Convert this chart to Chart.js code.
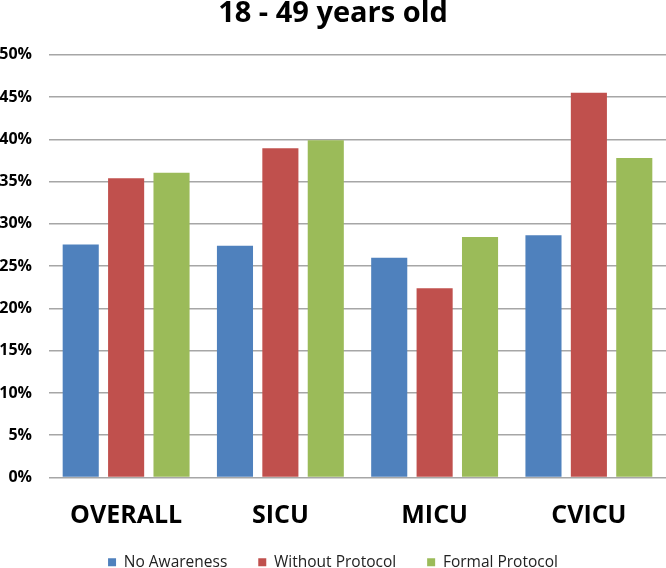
<!DOCTYPE html>
<html>
<head>
<meta charset="utf-8">
<script src="https://cdn.jsdelivr.net/npm/chart.js@4.4.0/dist/chart.umd.min.js"></script>
<style>
html,body{margin:0;padding:0;background:#fff;}
#wrap{width:666px;height:568px;position:relative;}
</style>
</head>
<body>
<div id="wrap"><canvas id="c" width="666" height="568"></canvas></div>
<script>
const categories = ["OVERALL", "SICU", "MICU", "CVICU"];
const noAwareness = [27.55, 27.4, 26.0, 28.65];
const withoutProtocol = [35.4, 38.95, 22.4, 45.5];
const formalProtocol = [36.05, 39.9, 28.45, 37.8];
const seriesNames = ["No Awareness", "Without Protocol", "Formal Protocol"];
const titleText = "18 - 49 years old";

const colors = ["#4F81BD", "#C0504D", "#9BBB59"];
const seriesData = [noAwareness, withoutProtocol, formalProtocol];

new Chart(document.getElementById('c'), {
  type: 'bar',
  data: {
    labels: categories,
    datasets: seriesNames.map((n, i) => ({
      label: n,
      data: seriesData[i],
      backgroundColor: colors[i],
      borderWidth: 0,
      categoryPercentage: 0.883,
      barPercentage: 0.795
    }))
  },
  options: {
    responsive: false,
    animation: false,
    layout: { padding: { top: 0, right: 0, bottom: -12, left: 0 } },
    plugins: {
      title: {
        display: true,
        text: titleText,
        color: '#000',
        font: { family: "'Open Sans', sans-serif", size: 29, weight: 'bold' },
        padding: { top: -4, bottom: 24 }
      },
      legend: {
        position: 'bottom',
        labels: {
          boxWidth: 8, boxHeight: 8,
          color: '#222',
          font: { family: "'Open Sans', sans-serif", size: 15.5, lineHeight: 1.0 },
          padding: 31
        }
      },
      tooltip: { enabled: false }
    },
    scales: {
      x: {
        grid: { display: false },
        border: { display: false },
        afterFit: s => { s.height = s.height - 22; },
        ticks: {
          color: '#000',
          font: { family: "'Liberation Sans Narrow', 'Open Sans', sans-serif", size: 25, weight: 'bold' },
          padding: 15
        }
      },
      y: {
        min: 0, max: 50,
        afterFit: s => { s.width = 49; },
        grid: { color: '#A6A6A6', lineWidth: 1.5, drawTicks: false },
        border: { display: false },
        ticks: {
          stepSize: 5,
          color: '#000',
          padding: 17,
          font: { family: "'Open Sans', sans-serif", size: 16, weight: 'bold' },
          callback: v => v + '%'
        }
      }
    }
  }
});
</script>
</body>
</html>
